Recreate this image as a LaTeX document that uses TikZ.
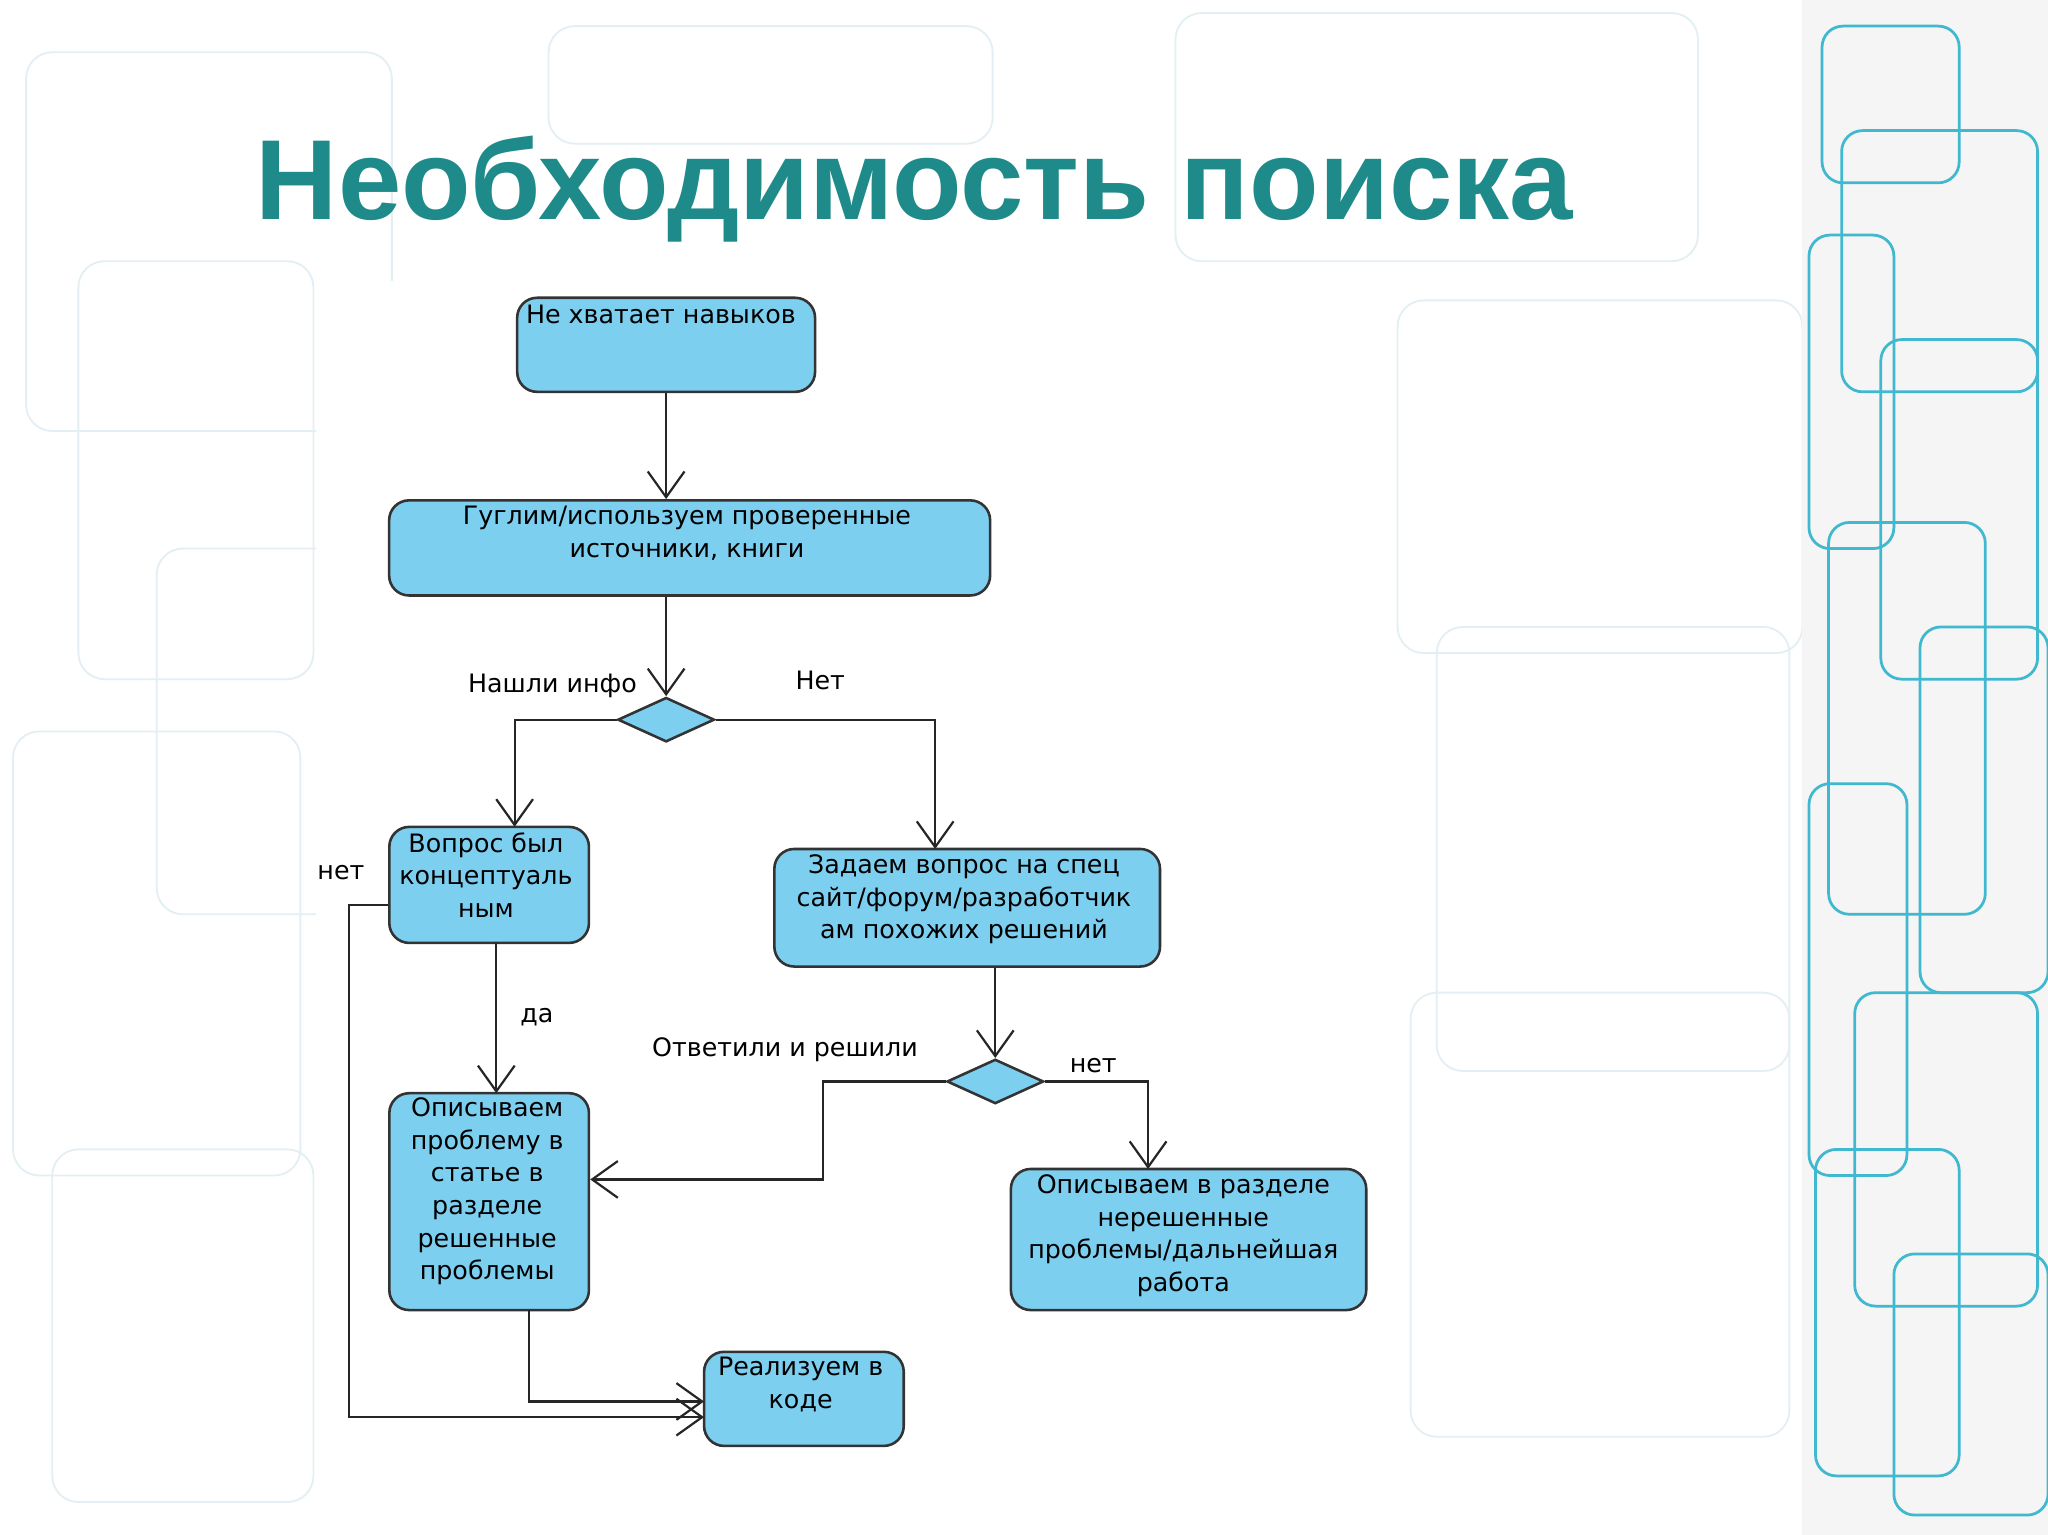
\documentclass[tikz,border=0pt]{standalone}
\usepackage{fontspec}
\setmainfont{DejaVu Sans}
\newfontfamily\titlefont{Liberation Sans}
\usetikzlibrary{arrows.meta,shapes.geometric}
\definecolor{boxfill}{HTML}{7DCFF0}
\definecolor{titlecol}{HTML}{1F8A8A}
\definecolor{bgline}{HTML}{E4EFF3}
\definecolor{stripc}{HTML}{3FB8D0}
\tikzset{
  box/.style={draw=black!80,fill=boxfill,line width=1.4pt,rounded corners=0.38cm,inner sep=0pt},
  dia/.style={draw=black!80,fill=boxfill,line width=1.4pt,diamond,inner sep=0pt,minimum width=1.85cm,minimum height=0.85cm},
  btxt/.style={align=center,font=\fontsize{13.8pt}{17.8pt}\selectfont,inner sep=0pt,anchor=north},
  lbl/.style={font=\fontsize{13.8pt}{17pt}\selectfont,inner sep=0pt},
  conn/.style={line width=1.2pt,draw=black!85,-{Straight Barb[length=14pt,width=20pt,line width=1.2pt]}},
}
\begin{document}
\begin{tikzpicture}[x=0.025cm,y=-0.025cm]
\useasboundingbox (0,0) rectangle (1568,1175);
\fill[white] (0,0) rectangle (1568,1175);
% faint background pattern
\foreach \a/\b/\c/\d in {20/40/300/330, 60/200/240/520, 10/560/230/900, 40/880/240/1150, 1070/230/1380/500, 1100/480/1370/820, 1080/760/1370/1100, 420/20/760/110, 900/10/1300/200, 120/420/260/700}
  \draw[bgline,line width=1pt,rounded corners=0.5cm] (\a,\b) rectangle (\c,\d);
% right strip
\fill[black!4] (1380,0) rectangle (1568,1175);
\foreach \a/\b/\c/\d in {1395/20/1500/140, 1410/100/1560/300, 1385/180/1450/420, 1440/260/1560/520, 1400/400/1520/700, 1470/480/1568/760, 1385/600/1460/900, 1420/760/1560/1000, 1390/880/1500/1130, 1450/960/1568/1160}
  \draw[stripc,line width=1.5pt,rounded corners=0.4cm] (\a,\b) rectangle (\c,\d);
% white panel
\fill[white] (242,215) rectangle (1065,1140);
% title
\node[font=\titlefont\bfseries\fontsize{62pt}{70pt}\selectfont,text=titlecol,inner sep=0pt] (title) at (700,145) {Необходимость поиска};
% boxes
\node[box,minimum width=5.7cm,minimum height=1.8cm] (n1) at (510,264) {};
\node[btxt] (t1) at (506,233) {Не хватает навыков};
\node[box,minimum width=11.5cm,minimum height=1.82cm] (n2) at (528,419.5) {};
\node[btxt] (t2) at (526,387) {Гуглим/используем проверенные\\источники, книги};
\node[dia] (d1) at (510,551) {};
\node[box,minimum width=3.82cm,minimum height=2.22cm] (n3) at (374.5,677.5) {};
\node[btxt] (t3) at (372,637) {Вопрос был\\концептуаль\\ным};
\node[box,minimum width=7.38cm,minimum height=2.25cm] (n4) at (740.5,695) {};
\node[btxt] (t4) at (738,654) {Задаем вопрос на спец\\сайт/форум/разработчик\\ам похожих решений};
\node[dia] (d2) at (762,828) {};
\node[box,minimum width=3.82cm,minimum height=4.15cm] (n5) at (374.5,920) {};
\node[btxt] (t5) at (373,840) {Описываем\\проблему в\\статье в\\разделе\\решенные\\проблемы};
\node[box,minimum width=6.8cm,minimum height=2.7cm] (n6) at (910,949) {};
\node[btxt] (t6) at (906,899) {Описываем в разделе\\нерешенные\\проблемы/дальнейшая\\работа};
\node[box,minimum width=3.82cm,minimum height=1.8cm] (n7) at (615.5,1071) {};
\node[btxt] (t7) at (613,1039) {Реализуем в\\коде};
% connectors
\draw[conn] (n1.south) -- (n1.south |- n2.north);
\draw[conn] (n2.south -| d1.north) -- (d1.north);
\draw[conn] (d1.west) -| (394,633);
\draw[conn] (d1.east) -| (716,650);
\draw[conn] (380,722) -- (380,837);
\coordinate (c3) at (267,693);
\draw[conn] (n3.west |- c3) -- (c3) -- (267,1085) -- (539,1085);
\draw[conn] (n4.south -| d2.north) -- (d2.north);
\draw[conn] (d2.west) -- (630,828) -- (630,903) -- (n5.east |- 0,903);
\draw[conn] (d2.east) -| (879,895);
\draw[conn] (405,1003) -- (405,1073) -- (539,1073);
% labels
\node[lbl] (l1) at (423,525) {Нашли инфо};
\node[lbl] (l2) at (628,521) {Нет};
\node[lbl] (l3) at (261,668) {нет};
\node[lbl] (l4) at (411,779) {да};
\node[lbl] (l5) at (601,804) {Ответили и решили};
\node[lbl] (l6) at (837,816) {нет};
\end{tikzpicture}
\end{document}
